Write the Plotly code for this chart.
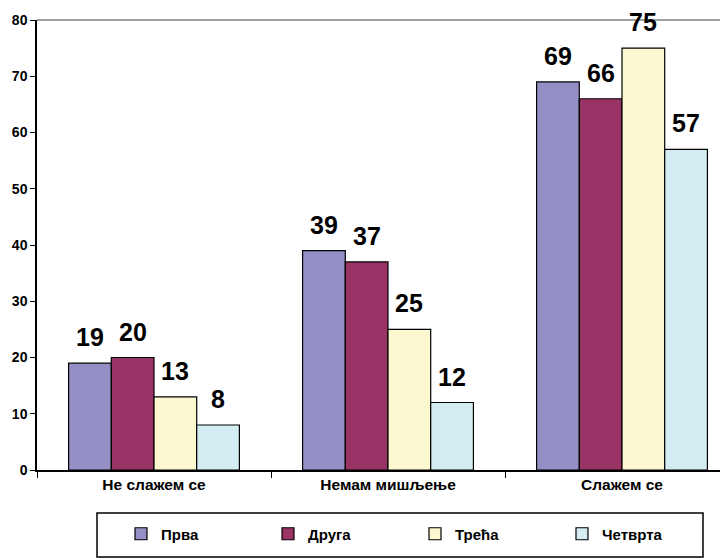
import plotly.graph_objects as go

categories = ["Не слажем се", "Немам мишљење", "Слажем се"]
series_names = ["Прва", "Друга", "Трећа", "Четврта"]
prva = [19, 39, 69]
druga = [20, 37, 66]
treca = [13, 25, 75]
cetvrta = [8, 12, 57]
y_ticks = [0, 10, 20, 30, 40, 50, 60, 70, 80]

series_values = [prva, druga, treca, cetvrta]
colors = ["#9490C6", "#993366", "#FCF8D0", "#D4EDF3"]

FONT = "Liberation Sans, Arial"
BARGAP = 0.27
ML, MT, PLOT_W, PLOT_H = 29, 12, 691, 450
X_RANGE = [-0.5, 2.453]
cat_px = PLOT_W / (X_RANGE[1] - X_RANGE[0])
bar_px = cat_px * (1 - BARGAP) / len(series_names)

fig = go.Figure()
for i, (name, vals, col) in enumerate(zip(series_names, series_values, colors)):
    fig.add_trace(go.Bar(
        x=categories, y=vals, name=name,
        marker=dict(color=col, line=dict(color="black", width=1.2)),
        cliponaxis=False,
    ))
    # data labels placed via axis scales, shifted to the bar's slot
    shift = (i - (len(series_names) - 1) / 2) * bar_px
    for c, v in zip(categories, vals):
        fig.add_annotation(
            x=c, y=v, xref="x", yref="y", text=str(v), showarrow=False,
            xshift=shift, yshift=10, yanchor="bottom",
            font=dict(family=FONT, size=25, color="black", weight="bold"),
        )

def px_x(p):
    return (p - ML) / PLOT_W

def px_y(p):
    return (MT + PLOT_H - p) / PLOT_H

fig.update_layout(
    width=ML + PLOT_W, height=MT + PLOT_H + 90,
    margin=dict(l=ML, r=0, t=MT, b=90, autoexpand=False),
    paper_bgcolor="white", plot_bgcolor="white",
    barmode="group", bargap=BARGAP, bargroupgap=0,
    font=dict(family=FONT, color="black"),
    showlegend=True,
    legend=dict(
        orientation="h", x=px_x(113), y=px_y(526),
        xanchor="left", yanchor="middle",
        entrywidth=102, entrywidthmode="pixels",
        font=dict(size=15, family=FONT, color="black", weight="bold"),
        bgcolor="rgba(0,0,0,0)", itemwidth=30,
    ),
)

fig.update_xaxes(
    type="category", range=X_RANGE,
    showline=True, linecolor="black", linewidth=1.5,
    ticks="outside", tickson="boundaries", ticklen=6, tickcolor="black",
    tickfont=dict(size=15.5, family=FONT, color="black", weight="bold"),
    showgrid=False, zeroline=False, automargin=False,
)
fig.update_yaxes(
    range=[0, 80], tickvals=y_ticks,
    showline=True, linecolor="black", linewidth=1.5,
    ticks="outside", ticklen=5, tickcolor="black",
    tickfont=dict(size=14, family=FONT, color="black", weight="bold"),
    showgrid=False, zeroline=False, automargin=False,
)

# top border line of plot area (gray)
fig.add_shape(type="line", xref="paper", yref="paper", x0=0, x1=1, y0=1, y1=1,
              line=dict(color="#808080", width=1.5), layer="below")
# legend box
fig.add_shape(type="rect", xref="paper", yref="paper",
              x0=px_x(89), x1=px_x(695), y0=px_y(549), y1=px_y(505),
              line=dict(color="black", width=1.5), fillcolor="rgba(0,0,0,0)")

fig.write_html("out.html")
